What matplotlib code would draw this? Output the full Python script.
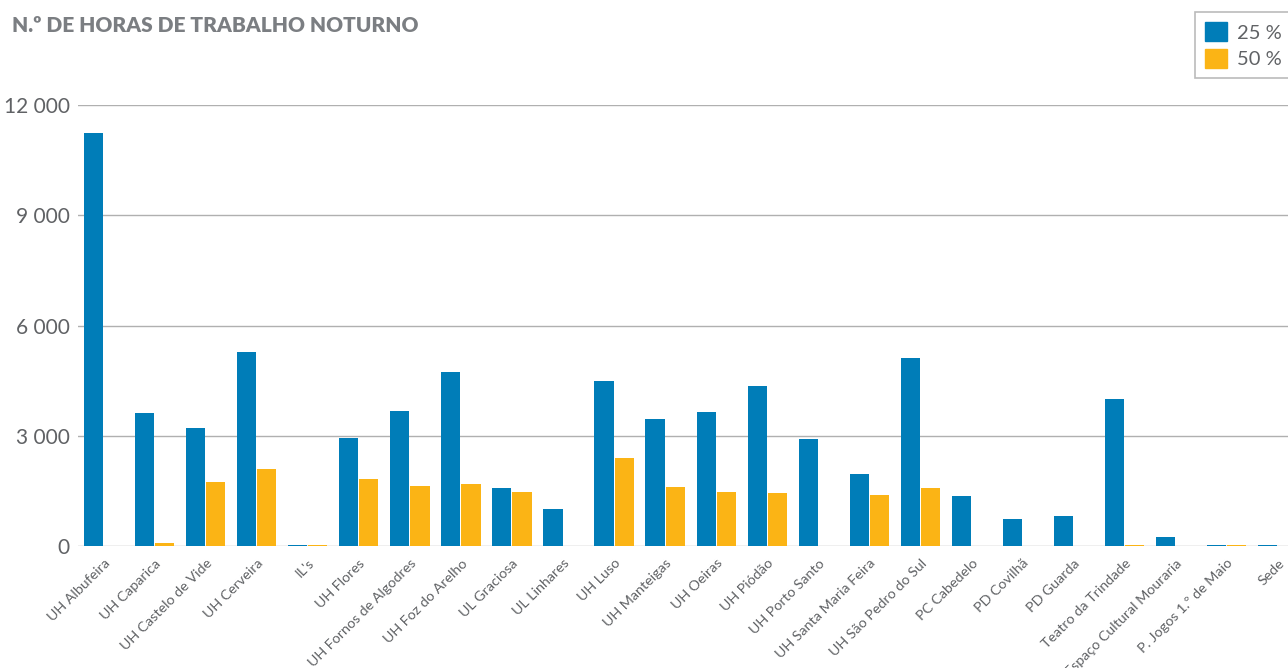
import matplotlib
matplotlib.use("Agg")
import matplotlib.pyplot as plt
import matplotlib.ticker as ticker
from matplotlib.patches import Patch
import numpy as np

categories = [
    "UH Albufeira", "UH Caparica", "UH Castelo de Vide", "UH Cerveira", "IL's",
    "UH Flores", "UH Fornos de Algodres", "UH Foz do Arelho", "UL Graciosa",
    "UL Linhares", "UH Luso", "UH Manteigas", "UH Oeiras", "UH Piódão",
    "UH Porto Santo", "UH Santa Maria Feira", "UH São Pedro do Sul",
    "PC Cabedelo", "PD Covilhã", "PD Guarda", "Teatro da Trindade",
    "Espaço Cultural Mouraria", "P. Jogos 1.º de Maio", "Sede",
]
h25 = [11240, 3620, 3210, 5280, 30, 2940, 3670, 4740, 1580, 1010, 4490, 3460,
       3650, 4350, 2910, 1960, 5120, 1360, 740, 820, 4000, 250, 20, 40]
h50 = [0, 80, 1740, 2100, 30, 1820, 1630, 1690, 1470, 0, 2400, 1610,
       1470, 1440, 0, 1390, 1580, 0, 0, 0, 30, 0, 20, 0]
yticks = [0, 3000, 6000, 9000, 12000]

BLUE = "#007db8"
ORANGE = "#fbb415"
GREY = "#7b7e82"
TXT = "#606265"

plt.rcParams["font.family"] = ["Lato", "DejaVu Sans"]

fig = plt.figure(figsize=(12.88, 6.68), dpi=100)
ax = fig.add_axes([78 / 1288, 122 / 668, 1 - 78 / 1288, 441 / 668])

x = np.arange(len(categories))
w = 0.375
ax.bar(x - w / 2 - 0.01, h25, width=w, color=BLUE, zorder=3)
ax.bar(x + w / 2 + 0.01, h50, width=w, color=ORANGE, zorder=3)

ax.set_xlim(-0.5, 23.2)
ax.set_ylim(0, 12000)
ax.set_yticks(yticks)
ax.yaxis.set_major_formatter(ticker.FuncFormatter(lambda v, _: f"{int(v):,}".replace(",", " ")))
ax.grid(axis="y", color="#b0b0b0", linewidth=1.0, zorder=0)
for s in ax.spines.values():
    s.set_visible(False)
ax.tick_params(axis="y", length=0, pad=6, labelsize=15, labelcolor=TXT)
ax.tick_params(axis="x", length=0, pad=8)

ax.set_xticks(x)
ax.set_xticklabels(categories, rotation=45, ha="right", rotation_mode="anchor",
                   fontsize=10.3, color=TXT)

fig.text(12 / 1288, 1 - 26 / 668, "N.º DE HORAS DE TRABALHO NOTURNO",
         fontsize=15, fontweight="heavy", color=GREY, va="center", ha="left")

handles = [Patch(color=BLUE, label="25 %"), Patch(color=ORANGE, label="50 %")]
leg = fig.legend(handles=handles, loc="upper right", bbox_to_anchor=(1.003, 1 - 12 / 668),
                 borderaxespad=0, fontsize=14.5, frameon=True, fancybox=False,
                 handlelength=1.1, handleheight=1.1, handletextpad=0.5,
                 borderpad=0.5, labelspacing=0.35, labelcolor=TXT)
leg.get_frame().set_edgecolor("#aaaaaa")
leg.get_frame().set_linewidth(1.2)

fig.savefig("out.png", dpi=100)
